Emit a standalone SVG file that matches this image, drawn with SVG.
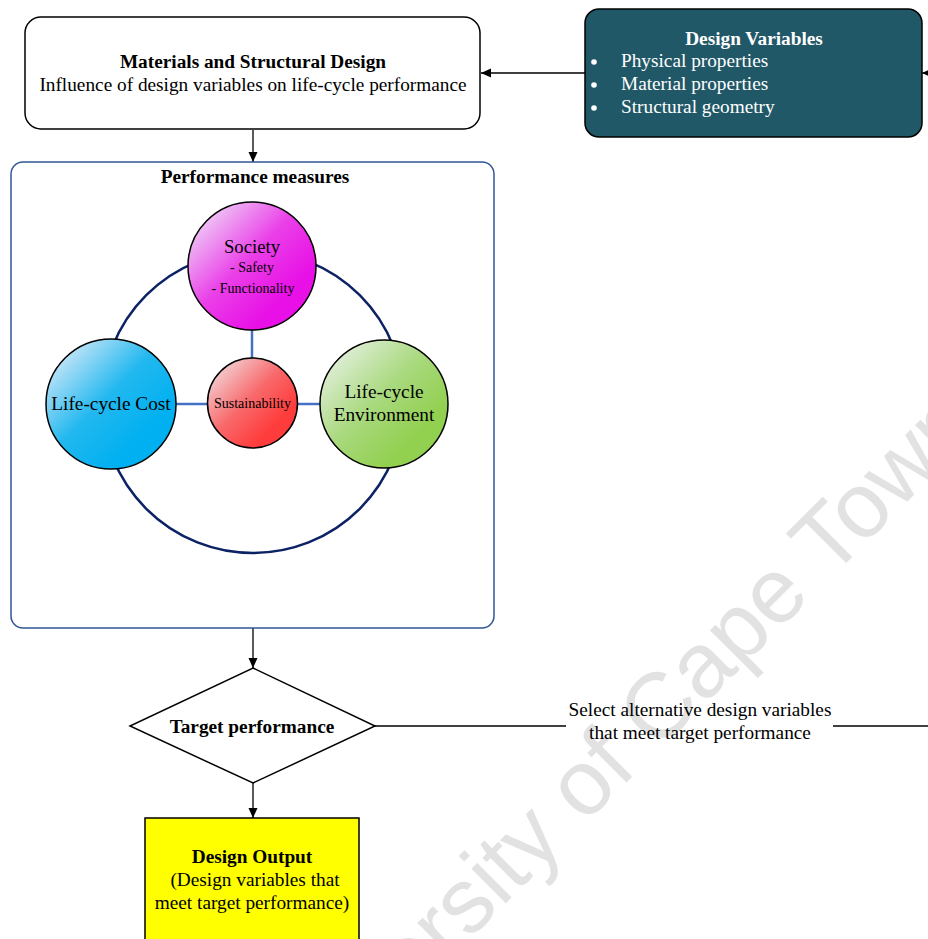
<svg xmlns="http://www.w3.org/2000/svg" width="928" height="939" viewBox="0 0 928 939">
  <defs>
    <style>
      text { font-family: "Liberation Serif", "Times New Roman", serif; fill: #000; }
      .b { font-weight: bold; }
      .c { text-anchor: middle; }
      .t { font-size: 19.3px; }
      .w { fill: #fff; }
      .box { fill: #fff; stroke: #000; stroke-width: 1.5; }
      .edge { fill: none; stroke: #000; stroke-width: 1.3; }
      .link { stroke: #4472c4; stroke-width: 2.5; }
      .ring { fill: none; stroke: #0b2265; stroke-width: 2.5; }
      .ball { stroke: #000; stroke-width: 1.5; }
      .wm { font-family: "Liberation Sans", Arial, sans-serif; font-size: 92px; fill: #e2e2e2; }
    </style>
    <marker id="arr" viewBox="0 0 10 10" refX="10" refY="5" markerWidth="10" markerHeight="10" markerUnits="userSpaceOnUse" orient="auto">
      <path d="M0,0.5 L10,5 L0,9.5 Z" fill="#000"/>
    </marker>
    <linearGradient id="gSoc" x1="0.1" y1="0.1" x2="0.75" y2="0.75">
      <stop offset="0" stop-color="#efd0f6"/>
      <stop offset="0.55" stop-color="#ea40e8"/>
      <stop offset="1" stop-color="#e810e6"/>
    </linearGradient>
    <linearGradient id="gCost" x1="0.1" y1="0.1" x2="0.75" y2="0.75">
      <stop offset="0" stop-color="#cfe8f8"/>
      <stop offset="0.55" stop-color="#22b8ef"/>
      <stop offset="1" stop-color="#00b0f0"/>
    </linearGradient>
    <linearGradient id="gSus" x1="0.1" y1="0.1" x2="0.75" y2="0.75">
      <stop offset="0" stop-color="#f2d3d6"/>
      <stop offset="0.55" stop-color="#f86a6c"/>
      <stop offset="1" stop-color="#ff3c3c"/>
    </linearGradient>
    <linearGradient id="gEnv" x1="0.1" y1="0.1" x2="0.75" y2="0.75">
      <stop offset="0" stop-color="#e2efdc"/>
      <stop offset="0.55" stop-color="#a9d97e"/>
      <stop offset="1" stop-color="#92d050"/>
    </linearGradient>
  </defs>

  <rect width="928" height="939" fill="#fff"/>

  <!-- background watermark -->
  <text class="wm" text-anchor="middle" transform="translate(631 778) rotate(-45)">University of Cape Town</text>

  <!-- connectors -->
  <g id="connectors">
    <line class="edge" x1="585" y1="73" x2="481" y2="73" marker-end="url(#arr)"/>
    <line class="edge" x1="945" y1="73" x2="922" y2="73" marker-end="url(#arr)"/>
    <line class="edge" x1="253" y1="130" x2="253" y2="162" marker-end="url(#arr)"/>
    <line class="edge" x1="253" y1="628" x2="253" y2="668" marker-end="url(#arr)"/>
    <line class="edge" x1="253" y1="783" x2="253" y2="818" marker-end="url(#arr)"/>
    <line class="edge" x1="375" y1="726" x2="566" y2="726"/>
    <line class="edge" x1="833" y1="726" x2="945" y2="726"/>
    <g id="loop-label">
      <text class="c t" x="700" y="716">Select alternative design variables</text>
      <text class="c t" x="700" y="739">that meet target performance</text>
    </g>
  </g>

  <!-- materials and structural design -->
  <g id="materials">
    <rect class="box" x="25" y="17" width="455" height="112" rx="16"/>
    <text class="c b t" x="253" y="68">Materials and Structural Design</text>
    <text class="c t" x="253" y="91">Influence of design variables on life-cycle performance</text>
  </g>

  <!-- design variables -->
  <g id="design-variables">
    <rect x="585" y="9" width="337" height="128" rx="14" fill="#215868" stroke="#000" stroke-width="1.5"/>
    <text class="c b t w" x="754" y="45">Design Variables</text>
    <g fill="#fff">
      <circle cx="594" cy="62" r="2.8"/>
      <circle cx="594" cy="85" r="2.8"/>
      <circle cx="594" cy="108" r="2.8"/>
    </g>
    <text class="t w" x="621" y="67">Physical properties</text>
    <text class="t w" x="621" y="90">Material properties</text>
    <text class="t w" x="621" y="113">Structural geometry</text>
  </g>

  <!-- performance measures -->
  <g id="performance">
    <rect x="11" y="162" width="483" height="466" rx="12" fill="none" stroke="#2f5597" stroke-width="1.5"/>
    <text class="c b t" x="255" y="183">Performance measures</text>
    <circle class="ring" cx="253" cy="402" r="151"/>
    <line class="link" x1="252" y1="330" x2="252" y2="358"/>
    <line class="link" x1="176" y1="404" x2="207" y2="404"/>
    <line class="link" x1="298" y1="404" x2="320" y2="404"/>
  </g>

  <g id="society">
    <circle class="ball" cx="252" cy="266" r="64" fill="url(#gSoc)"/>
    <text class="c" x="252" y="253" font-size="18.7">Society</text>
    <text class="c" x="252" y="272" font-size="14">- Safety</text>
    <text class="c" x="253" y="293" font-size="14">- Functionality</text>
  </g>

  <g id="lifecycle-cost">
    <circle class="ball" cx="111" cy="404" r="65" fill="url(#gCost)"/>
    <text class="c t" x="111" y="410">Life-cycle Cost</text>
  </g>

  <g id="sustainability">
    <circle class="ball" cx="252.5" cy="403" r="45" fill="url(#gSus)"/>
    <text class="c" x="252.5" y="408" font-size="14">Sustainability</text>
  </g>

  <g id="lifecycle-environment">
    <circle class="ball" cx="384" cy="404" r="64" fill="url(#gEnv)"/>
    <text class="c t" x="384" y="398">Life-cycle</text>
    <text class="c t" x="384" y="421">Environment</text>
  </g>

  <!-- target performance decision -->
  <g id="target">
    <polygon class="box" points="253,668 375,726 253,783 130,726"/>
    <text class="c b t" x="252" y="733">Target performance</text>
  </g>

  <!-- design output -->
  <g id="design-output">
    <rect x="145" y="818" width="214" height="140" fill="#ffff00" stroke="#000" stroke-width="1.5"/>
    <text class="c b t" x="252" y="863">Design Output</text>
    <text class="c t" x="255" y="886">(Design variables that</text>
    <text class="c t" x="252" y="909">meet target performance)</text>
  </g>
</svg>
